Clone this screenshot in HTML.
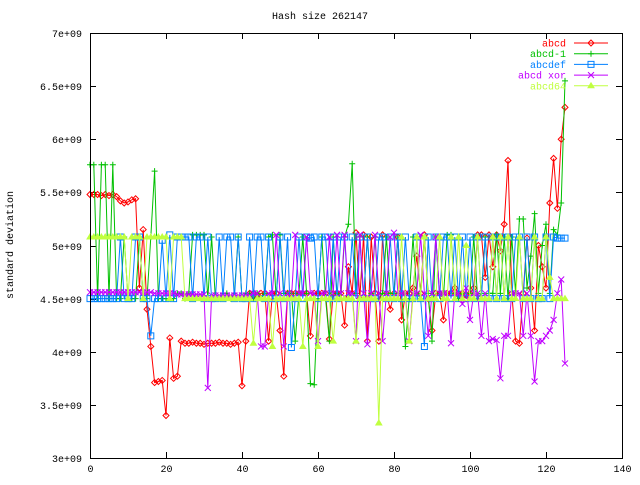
<!DOCTYPE html>
<html><head><meta charset="utf-8"><style>
body{margin:0;background:#fff}
svg text{font-family:"Liberation Mono","DejaVu Sans Mono",monospace;font-size:10px}
</style></head><body>
<svg id="chart" width="640" height="480" xmlns="http://www.w3.org/2000/svg">
<rect x="0" y="0" width="640" height="480" fill="#fff"/>
<text x="320" y="19" text-anchor="middle">Hash size 262147</text>
<text transform="translate(13,245) rotate(-90)" text-anchor="middle">standard deviation</text>
<g id="axes"></g>
<g id="series"></g>
<g id="legend"></g>
<rect x="90.5" y="33.5" width="532" height="425" fill="none" stroke="#000"/>
</svg>
<script>
const xTicks=[0,20,40,60,80,100,120,140];
const yTicks=[3,3.5,4,4.5,5,5.5,6,6.5,7];
const yTickLabels=["3e+09","3.5e+09","4e+09","4.5e+09","5e+09","5.5e+09","6e+09","6.5e+09","7e+09"];
const seriesNames=["abcd","abcd-1","abcdef","abcd xor","abcd64"];
const abcd=[5.48,5.48,5.48,5.47,5.48,5.47,5.48,5.46,5.42,5.40,5.41,5.43,5.44,4.6,5.15,4.4,4.05,3.71,3.72,3.73,3.4,4.13,3.75,3.77,4.1,4.08,4.08,4.09,4.08,4.08,4.07,4.08,4.08,4.08,4.09,4.08,4.08,4.07,4.08,4.09,3.68,4.1,4.55,4.55,4.5,4.55,4.55,4.1,4.55,4.55,4.2,3.77,4.55,4.55,4.55,4.55,4.55,4.55,4.15,4.55,4.55,4.55,4.55,4.12,4.55,4.55,4.55,4.25,4.8,4.55,5.12,4.5,5.1,4.1,5.08,4.55,4.1,5.1,4.55,4.4,4.55,5.08,4.3,4.55,4.55,4.6,4.9,4.55,5.1,4.5,4.2,4.55,4.55,4.3,4.55,4.55,4.6,4.55,4.55,4.5,4.55,4.6,5.1,5.1,4.7,5.1,4.8,5.1,4.95,5.2,5.8,4.55,4.1,4.08,4.55,5.07,4.6,4.2,5.0,4.8,4.6,5.4,5.82,5.35,6.0,6.3];
const abcd1=[5.76,5.76,4.5,5.76,5.76,4.5,5.76,4.5,4.5,5.08,4.5,4.5,4.5,5.08,4.5,4.5,5.08,5.7,4.5,4.5,4.5,4.5,4.5,4.55,4.55,4.5,4.55,5.1,5.1,5.1,5.1,4.5,5.08,4.5,4.5,4.55,4.55,4.5,4.55,5.08,4.5,4.55,4.55,4.5,4.55,4.5,4.55,5.08,5.1,4.5,5.1,4.55,4.55,4.55,4.1,4.55,5.08,4.55,3.7,3.69,4.5,5.08,4.5,4.1,5.08,4.55,4.5,5.08,5.2,5.77,4.55,5.08,4.5,5.08,4.55,5.08,4.5,4.55,5.08,4.55,4.55,5.08,4.55,4.05,4.5,5.08,4.55,4.5,5.08,4.55,4.1,5.08,4.55,4.5,5.1,5.1,4.55,4.5,4.55,4.55,4.55,5.08,4.5,4.55,5.08,4.55,4.55,5.1,4.55,5.08,4.5,5.08,4.55,5.25,5.25,4.6,4.9,5.3,4.55,5.0,5.2,4.55,5.15,5.1,5.4,6.55];
const abcdef=[4.5,4.5,4.5,4.5,4.5,4.5,4.5,4.5,5.08,4.5,4.5,4.5,5.08,5.08,4.5,4.5,4.15,4.5,4.5,5.05,4.5,5.1,4.5,5.08,5.08,5.08,5.08,4.5,5.08,5.08,4.5,5.08,4.5,4.5,5.08,4.5,5.08,5.08,4.5,5.08,4.5,4.5,5.08,4.5,5.08,5.08,4.5,5.08,4.5,4.5,5.08,4.5,5.08,4.04,4.5,5.08,4.5,5.08,5.07,5.08,4.5,5.08,5.08,4.5,5.08,4.5,5.08,5.08,4.5,5.08,4.5,5.08,4.5,5.08,4.5,4.5,5.08,5.08,4.5,5.08,4.5,5.08,4.5,5.08,4.5,4.5,5.08,4.5,4.05,5.08,4.5,5.08,4.5,5.08,5.08,4.5,5.08,4.5,5.08,4.5,5.08,4.5,5.08,4.5,5.08,4.5,5.08,4.5,5.08,4.5,5.08,4.5,5.08,5.08,4.5,5.08,4.5,5.08,4.5,4.5,5.08,4.5,5.08,5.07,5.07,5.07];
const abcdxor=[4.56,4.56,4.56,4.56,4.56,4.56,4.56,4.56,4.56,4.56,4.56,4.56,4.56,4.56,4.56,4.56,4.56,4.55,4.55,4.55,4.55,4.55,4.55,4.54,4.54,4.54,4.54,4.54,4.54,4.54,4.54,3.66,4.53,4.53,4.53,4.53,4.53,4.53,4.53,4.53,4.53,4.53,4.53,4.55,4.55,4.05,4.05,4.55,4.55,5.1,4.55,4.05,4.55,4.5,5.1,4.55,4.55,5.08,4.55,4.55,4.1,4.55,4.55,5.08,4.55,5.1,4.55,5.1,4.55,4.55,4.1,5.1,4.55,4.07,4.55,5.1,4.55,4.1,4.55,5.08,5.12,4.55,4.55,4.55,4.1,4.55,4.55,5.1,4.55,4.15,4.55,5.08,4.55,4.55,4.55,4.08,4.55,4.55,4.45,4.6,4.3,4.55,4.55,4.15,4.55,4.1,4.12,4.11,3.75,4.15,4.15,4.55,4.55,4.55,4.15,4.55,4.15,3.72,4.1,4.1,4.15,4.2,4.3,4.55,4.68,3.89];
const abcd64=[5.08,5.08,5.08,5.08,5.08,5.08,5.08,5.08,5.08,5.08,4.5,5.08,5.08,5.08,4.5,5.08,5.08,5.08,5.08,5.08,5.08,4.5,5.08,5.08,5.08,4.5,4.5,4.5,4.5,4.5,4.5,4.5,4.5,4.5,4.5,4.5,4.5,4.5,4.5,4.5,4.5,4.5,4.5,4.08,4.5,4.5,4.5,4.5,4.05,4.5,4.5,4.5,4.5,4.5,4.5,4.5,4.05,4.5,4.5,4.5,4.05,4.5,4.5,4.5,4.1,4.5,4.5,4.5,4.5,4.5,4.1,4.5,4.5,4.5,4.5,4.5,3.33,4.5,4.5,4.5,4.5,4.5,5.08,4.5,4.1,4.5,5.08,4.5,5.08,4.5,4.5,4.5,5.08,4.5,4.5,5.08,4.5,5.08,4.5,5.0,4.5,4.5,5.08,4.5,4.5,4.5,5.08,4.5,5.08,4.5,5.08,4.5,4.5,5.08,4.5,4.5,4.5,5.08,4.5,4.5,5.08,4.7,4.5,4.5,4.5,4.5];
const allSeries=[abcd,abcd1,abcdef,abcdxor,abcd64];
const colors=["#ff0000","#00c000","#0080ff","#c000ff","#c0ff40"];
const markers=["diamond","plus","square","cross","triangle"];
const NS="http://www.w3.org/2000/svg";
const X0=90,X1=622,Y0=458,Y1=33;
function xs(v){return X0+(v-0)/(140-0)*(X1-X0);}
function ys(v){return Y0-(v-3)/(7-3)*(Y0-Y1);}
function mk(tag,attrs,parent){const e=document.createElementNS(NS,tag);for(const k in attrs)e.setAttribute(k,attrs[k]);parent.appendChild(e);return e;}
const axes=document.getElementById('axes');
xTicks.forEach(t=>{const x=Math.round(xs(t))+0.5;
 let l=mk('path',{d:`M${x},${Y0}v-6M${x},${Y1}v6`,stroke:'#000'},axes);
 
 
 let tx=mk('text',{x:x,y:472,'text-anchor':'middle'},axes);tx.textContent=t;
 
 });
yTicks.forEach((t,i)=>{const y=Math.round(ys(t))+0.5;
 let l=mk('path',{d:`M${X0},${y}h6M${X1},${y}h-6`,stroke:'#000'},axes);
 
 
 let tx=mk('text',{x:82,y:y+3.5,'text-anchor':'end'},axes);tx.textContent=yTickLabels[i];
 
 });
function marker(type,x,y,c,parent){let d;
 if(type==='diamond')d=`M${x},${y-3}L${x+3},${y}L${x},${y+3}L${x-3},${y}Z`;
 else if(type==='plus')d=`M${x-3},${y}h6M${x},${y-3}v6`;
 else if(type==='square')d=`M${x-3},${y-3}h6v6h-6Z`;
 else if(type==='cross')d=`M${x-3},${y-3}l6,6M${x+3},${y-3}l-6,6`;
 else d=`M${x},${y-3}L${x+3},${y+2}L${x-3},${y+2}Z`;
 const fill=type==='triangle'?c:'none';
 const m=mk('path',{d:d,stroke:c,fill:fill,'stroke-width':1},parent);
 
 }
const sg=document.getElementById('series');
allSeries.forEach((arr,si)=>{
 const g=mk('g',{},sg);
 
 
 const pts=arr.map((v,i)=>xs(i).toFixed(1)+','+ys(v).toFixed(1)).join(' ');
 const pl=mk('polyline',{points:pts,fill:'none',stroke:colors[si],'stroke-width':1},g);
 
 
 arr.forEach((v,i)=>marker(markers[si],xs(i),ys(v),colors[si],g));
});
const lg=document.getElementById('legend');
seriesNames.forEach((n,i)=>{const y=43+i*10.7;
 const e=mk('g',{},lg);
 
 
 const t=mk('text',{x:566,y:y+3.5,'text-anchor':'end',fill:colors[i]},e);t.textContent=n;
 mk('line',{x1:574,x2:608,y1:y,y2:y,stroke:colors[i]},e);
 marker(markers[i],591,y,colors[i],e);});
</script>
</body></html>
